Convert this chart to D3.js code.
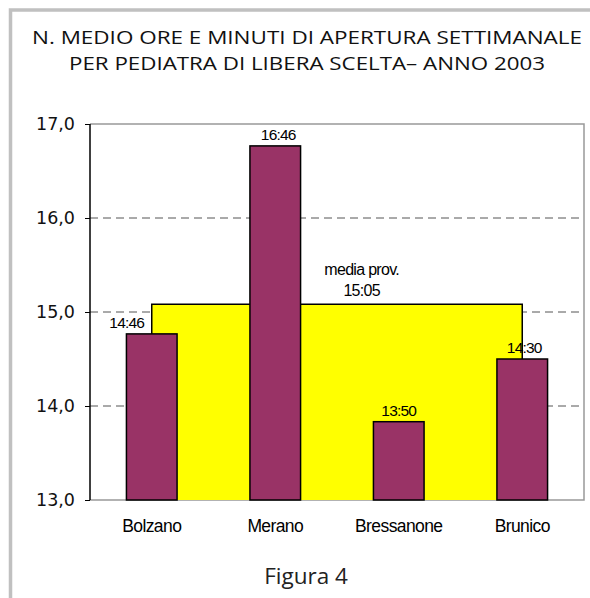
<!DOCTYPE html>
<html><head><meta charset="utf-8">
<script src="https://cdn.jsdelivr.net/npm/d3@7"></script>
<style>body{margin:0;background:#fff}svg{display:block}</style>
</head><body>
<script>
const categories = ["Bolzano","Merano","Bressanone","Brunico"];
const values = [14.767, 16.767, 13.833, 14.5];
const valueLabels = ["14:46","16:46","13:50","14:30"];
const mediaValue = 15.083;
const mediaLabel = ["media prov.","15:05"];
const yTicks = [13,14,15,16,17];
const titleLines = ["N. MEDIO ORE E MINUTI DI APERTURA SETTIMANALE","PER PEDIATRA DI LIBERA SCELTA– ANNO 2003"];
const caption = "Figura 4";

const W=590,H=598;
const svg=d3.select("body").append("svg").attr("width",W).attr("height",H);
// page frame
svg.append("rect").attr("x",10.5).attr("y",10).attr("width",640).attr("height",640)
  .attr("fill","none").attr("stroke","#c0c0c0").attr("stroke-width",3.5);

const L=90,R=584,T=124,B=500;
const x=d3.scaleBand().domain(categories).range([L,R]).paddingInner(0.59).paddingOuter(0.295);
const y=d3.scaleLinear().domain([13,17]).range([B,T]);
const cx=c=>x(c)+x.bandwidth()/2;

// title
const titleWidths=[550,476];
svg.append("g").selectAll("text").data(titleLines).join("text")
  .attr("x",307).attr("y",(d,i)=>43.5+i*26).attr("text-anchor","middle")
  .attr("textLength",(d,i)=>titleWidths[i]).attr("lengthAdjust","spacingAndGlyphs")
  .attr("font-family","Open Sans").attr("font-size",19).attr("fill","#111").text(d=>d);

// gridlines
svg.append("g").selectAll("line").data(yTicks.filter(t=>t>13&&t<17)).join("line")
  .attr("x1",L).attr("x2",R).attr("y1",d=>y(d)).attr("y2",d=>y(d))
  .attr("stroke","#555").attr("stroke-width",1).attr("stroke-dasharray","8,5");

// frame top/right/bottom
svg.append("path").attr("d",`M${L},${T}H${R}V${B}H${L}`).attr("fill","none").attr("stroke","#999").attr("stroke-width",1.5);

// media area
const area=d3.area().x(d=>cx(d)).y0(y(13)).y1(y(mediaValue));
svg.append("path").datum(categories).attr("d",area).attr("fill","#ffff00").attr("stroke","none");
const first=cx(categories[0]), last=cx(categories[categories.length-1]);
svg.append("path")
  .attr("d",`M${first},${y(13)}V${y(mediaValue)}H${last}V${y(13)}`)
  .attr("fill","none").attr("stroke","#000").attr("stroke-width",1.5);

// bars
svg.append("g").selectAll("rect").data(values).join("rect")
  .attr("x",(d,i)=>x(categories[i])).attr("width",x.bandwidth())
  .attr("y",d=>y(d)).attr("height",d=>y(13)-y(d))
  .attr("fill","#993366").attr("stroke","#000").attr("stroke-width",1.5);

// value labels
const labelDx=[-25,3,0,2];
svg.append("g").selectAll("text").data(values).join("text")
  .attr("x",(d,i)=>cx(categories[i])+labelDx[i]).attr("y",d=>y(d)-6)
  .attr("text-anchor","middle").attr("font-family","Liberation Sans").attr("font-size",15.5)
  .attr("letter-spacing",-0.8).attr("fill","#000").text((d,i)=>valueLabels[i]);

// media label
svg.append("g").selectAll("text").data(mediaLabel).join("text")
  .attr("x",cx("Merano")+x.step()*0.7).attr("y",(d,i)=>y(mediaValue)-29+i*21)
  .attr("text-anchor","middle").attr("font-family","Liberation Sans").attr("font-size",16)
  .attr("letter-spacing",-0.7).attr("fill","#000").text(d=>d);

// y axis
const ya=svg.append("g").attr("transform",`translate(${L},0)`)
  .call(d3.axisLeft(y).tickValues(yTicks).tickSize(5).tickPadding(10).tickFormat(d=>d3.format(".1f")(d).replace(".",",")));
ya.select(".domain").attr("stroke","#000").attr("stroke-width",1.5).attr("d",`M0,${T}V${B}`);
ya.selectAll(".tick line").attr("stroke","#000");
ya.selectAll(".tick text").attr("font-family","DejaVu Sans").attr("font-size",17.5).attr("fill","#111");

// x labels
svg.append("g").selectAll("text").data(categories).join("text")
  .attr("x",d=>cx(d)).attr("y",531.5).attr("text-anchor","middle")
  .attr("font-family","Liberation Sans").attr("font-size",17.5).attr("letter-spacing",-0.6).attr("fill","#000").text(d=>d);

svg.append("text").attr("x",306).attr("y",583.5).attr("text-anchor","middle")
  .attr("font-family","Open Sans").attr("font-size",22.5).attr("fill","#222").text(caption);
</script>
</body></html>
